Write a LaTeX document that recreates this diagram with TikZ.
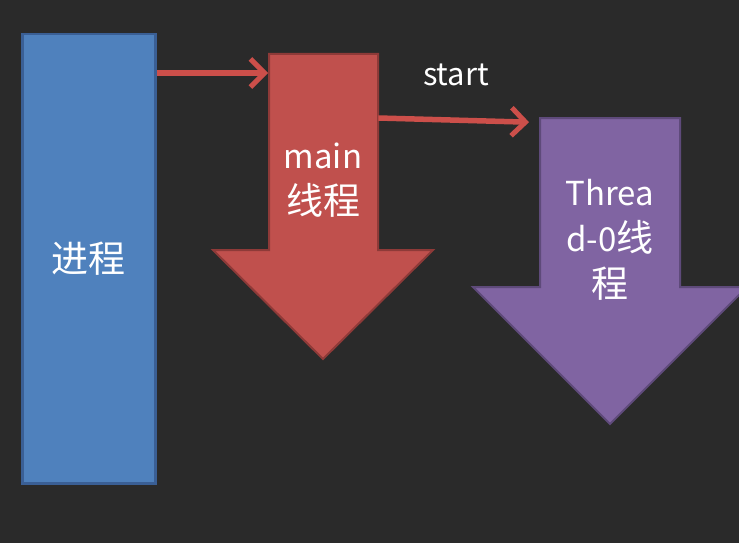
\documentclass[tikz,border=0pt]{standalone}
\usepackage{fontspec}
\setmainfont{Noto Sans CJK SC}
\usetikzlibrary{arrows.meta}
\definecolor{bg}{HTML}{2A2A2A}
\definecolor{bluefill}{HTML}{4F81BD}
\definecolor{blueline}{HTML}{3A5F95}
\definecolor{redfill}{HTML}{C0504D}
\definecolor{redline}{HTML}{8E3A38}
\definecolor{purfill}{HTML}{8064A2}
\definecolor{purline}{HTML}{5E4A7A}
\definecolor{connred}{HTML}{CC4F4A}
\newcommand{\cjbig}[1]{{\fontsize{37}{46}\selectfont #1}}
\begin{document}
\begin{tikzpicture}[x=1pt,y=-1pt,
  lbl/.style={text=white,font=\fontsize{33}{46}\selectfont,align=center,inner sep=0pt},
  procbox/.style={draw=blueline,fill=bluefill,line width=2.5pt,inner sep=0pt,text=white,font=\fontsize{37}{46}\selectfont},
  shaft/.style={inner sep=0pt,draw=none},
  conn/.style={draw=connred,line width=5.5pt,-{Straight Barb[length=14pt,width=28pt,line width=5pt]}}]
\fill[bg] (0,0) rectangle (739,543);
\useasboundingbox (0,0) rectangle (739,543);
% process box
\node[procbox,minimum width=133,minimum height=449,anchor=north west] (proc) at (21,33) {进程};
% main thread arrow
\draw[redline,fill=redfill,line width=2pt,line join=miter] (269,54) -- (378,54) -- (378,250) -- (433,250) -- (323,359) -- (213,250) -- (269,250) -- cycle;
\node[shaft,minimum width=109,minimum height=196,anchor=north west] (mainshaft) at (269,54) {};
\node[lbl] (mainlbl) at (323,180) {main\\\cjbig{线程}};
% thread-0 arrow
\draw[purline,fill=purfill,line width=2pt,line join=miter] (540,118) -- (680,118) -- (680,287) -- (747,287) -- (610,424) -- (473,287) -- (540,287) -- cycle;
\node[shaft,minimum width=140,minimum height=169,anchor=north west] (thrshaft) at (540,118) {};
\node[lbl] (thrlbl) at (610,240) {Threa\\d-0\cjbig{线}\\\cjbig{程}};
% connectors
\draw[conn,shorten >=1pt] (proc.east |- 0,73) -- (mainshaft.west |- 0,73);
\draw[conn,shorten >=11pt] (mainshaft.east |- 0,118) -- (thrshaft.west |- 0,122.5);
\node[lbl,font=\fontsize{31}{35}\selectfont] (startlbl) at (456,75) {start};
\end{tikzpicture}
\end{document}
